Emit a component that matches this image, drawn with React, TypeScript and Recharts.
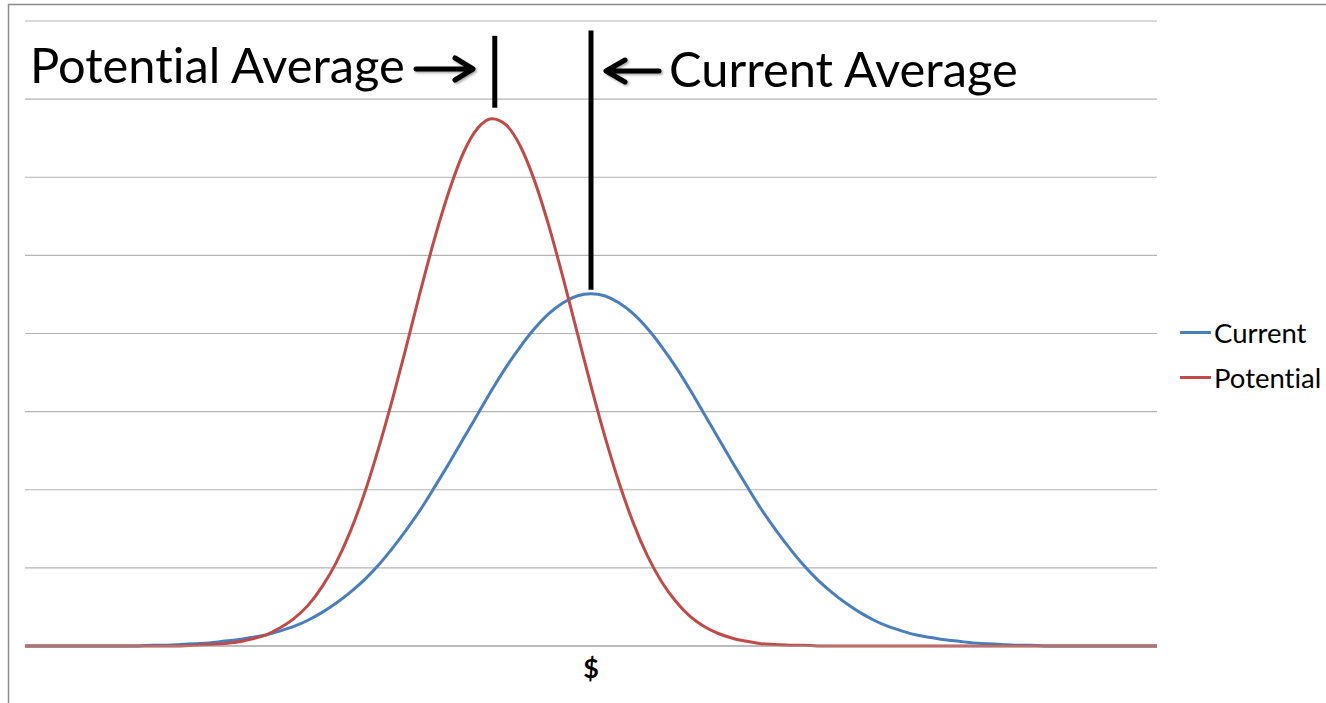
import { CartesianGrid, Legend, Line, LineChart, ReferenceLine, XAxis, YAxis } from 'recharts';

// bell curves, one value per bin (81 bins across the plot)
const currentValues = [
  0, 0, 0, 0, 0, 0, 0, 0, 0, 0.01, 0.01, 0.02, 0.03, 0.04, 0.06, 0.08, 0.11, 0.14, 0.19, 0.25,
  0.33, 0.43, 0.55, 0.69, 0.85, 1.04, 1.26, 1.5, 1.76, 2.05, 2.35, 2.66, 2.97, 3.28, 3.57, 3.83,
  4.06, 4.25, 4.39, 4.48, 4.51, 4.48, 4.39, 4.25, 4.06, 3.83, 3.57, 3.28, 2.97, 2.66, 2.35, 2.05,
  1.76, 1.5, 1.26, 1.04, 0.85, 0.69, 0.55, 0.43, 0.33, 0.25, 0.19, 0.14, 0.11, 0.08, 0.06, 0.04,
  0.03, 0.02, 0.01, 0.01, 0, 0, 0, 0, 0, 0, 0, 0, 0,
];
const potentialValues = [
  0, 0, 0, 0, 0, 0, 0, 0, 0, 0, 0, 0, 0.01, 0.02, 0.03, 0.05, 0.09, 0.14, 0.23, 0.35, 0.52, 0.76,
  1.07, 1.47, 1.96, 2.54, 3.18, 3.87, 4.58, 5.25, 5.84, 6.32, 6.63, 6.75, 6.67, 6.4, 5.96, 5.39,
  4.73, 4.03, 3.33, 2.67, 2.08, 1.57, 1.15, 0.82, 0.57, 0.38, 0.25, 0.16, 0.1, 0.06, 0.03, 0.02,
  0.01, 0.01, 0, 0, 0, 0, 0, 0, 0, 0, 0, 0, 0, 0, 0, 0, 0, 0, 0, 0, 0, 0, 0, 0, 0, 0, 0,
];
const bins = currentValues.map((_, i) => i);

const yTicks = [0, 1, 2, 3, 4, 5, 6, 7, 8];
const xTicks = [40];
const xTickLabels = ['$'];

const seriesNames = ['Current', 'Potential'];
const seriesColors = ['#4a7ebb', '#be4b48'];

// average markers (bin position, top and bottom value of the black bar)
const potentialAverage = 33.2;
const potentialSpan = [7.81, 6.89];
const currentAverage = 40;
const currentSpan = [7.88, 4.56];

const data = bins.map((b) => ({
  bin: b,
  current: currentValues[b],
  potential: potentialValues[b],
}));

const FONT = 'Lato, "Liberation Sans", sans-serif';
const noLig = { fontVariantLigatures: 'none' as const, fontFeatureSettings: '"liga" 0' };

function DollarTick({ x, y, payload }: any) {
  const label = xTickLabels[xTicks.indexOf(payload.value)];
  return (
    <text x={x} y={y + 32} textAnchor="middle" fontFamily={FONT} fontSize={27} fontWeight="bold" fill="#000">
      {label}
    </text>
  );
}

function LegendContent({ payload }: any) {
  return (
    <div>
      {(payload || []).map((p: any) => (
        <div key={p.value} style={{ display: 'flex', alignItems: 'center', height: 45 }}>
          <span style={{ display: 'inline-block', width: 31, height: 3, background: p.color }} />
          <span
            style={{ fontFamily: FONT, fontSize: 27.5, color: '#000', marginLeft: 3, lineHeight: '45px', ...noLig }}
          >
            {p.value}
          </span>
        </div>
      ))}
    </div>
  );
}

export default function App() {
  return (
    <div style={{ position: 'absolute', left: 0, top: 0, width: 1326, height: 703, background: '#fff' }}>
      <LineChart width={1326} height={703} data={data} margin={{ top: 21, right: 169, left: 25, bottom: 27 }}>
        <CartesianGrid vertical={false} stroke="#b3b3b3" strokeWidth={1.2} />
        <XAxis
          dataKey="bin"
          type="number"
          domain={[0, 80]}
          ticks={xTicks}
          interval={0}
          tickLine={false}
          tickSize={0}
          tickMargin={0}
          axisLine={{ stroke: '#9d9d9d', strokeWidth: 1.2 }}
          tick={<DollarTick />}
          height={30}
        />
        <YAxis hide domain={[0, 8]} ticks={yTicks} />
        <Line
          dataKey="current"
          name={seriesNames[0]}
          stroke={seriesColors[0]}
          strokeWidth={3}
          dot={false}
          type="monotone"
          isAnimationActive={false}
        />
        <Line
          dataKey="potential"
          name={seriesNames[1]}
          stroke={seriesColors[1]}
          strokeWidth={3}
          dot={false}
          type="monotone"
          isAnimationActive={false}
        />
        <ReferenceLine
          segment={[
            { x: potentialAverage, y: potentialSpan[0] },
            { x: potentialAverage, y: potentialSpan[1] },
          ]}
          stroke="#000"
          strokeWidth={5}
          ifOverflow="visible"
        />
        <ReferenceLine
          segment={[
            { x: currentAverage, y: currentSpan[0] },
            { x: currentAverage, y: currentSpan[1] },
          ]}
          stroke="#000"
          strokeWidth={5}
          ifOverflow="visible"
        />
        <Legend
          layout="vertical"
          align="center"
          verticalAlign="middle"
          content={<LegendContent />}
          wrapperStyle={{ left: 1180, top: 310, width: 146 }}
        />
      </LineChart>
      <svg
        width={1326}
        height={703}
        style={{ position: 'absolute', left: 0, top: 0, pointerEvents: 'none' }}
      >
        <defs>
          <filter id="shade" x="-20%" y="-20%" width="140%" height="140%">
            <feDropShadow dx="1.5" dy="1.5" stdDeviation="1.2" floodColor="#000" floodOpacity="0.35" />
          </filter>
        </defs>
        <path d="M8.5 703 V4.5 H1326" stroke="#8a8a8a" strokeWidth={1.5} fill="none" />
        <text x={30} y={83} fontFamily={FONT} fontSize={48.8} fill="#000" style={noLig}>
          Potential Average
        </text>
        <text x={669} y={87} fontFamily={FONT} fontSize={48.8} fill="#000" style={noLig}>
          Current Average
        </text>
        <g stroke="#000" strokeWidth={5} strokeLinecap="round" strokeLinejoin="round" fill="none" filter="url(#shade)">
          <path d="M416 69 H472 M455 58 L473 69 L455 80" />
          <path d="M659 71 H607 M625 60 L606 71 L625 82" />
        </g>
      </svg>
    </div>
  );
}
